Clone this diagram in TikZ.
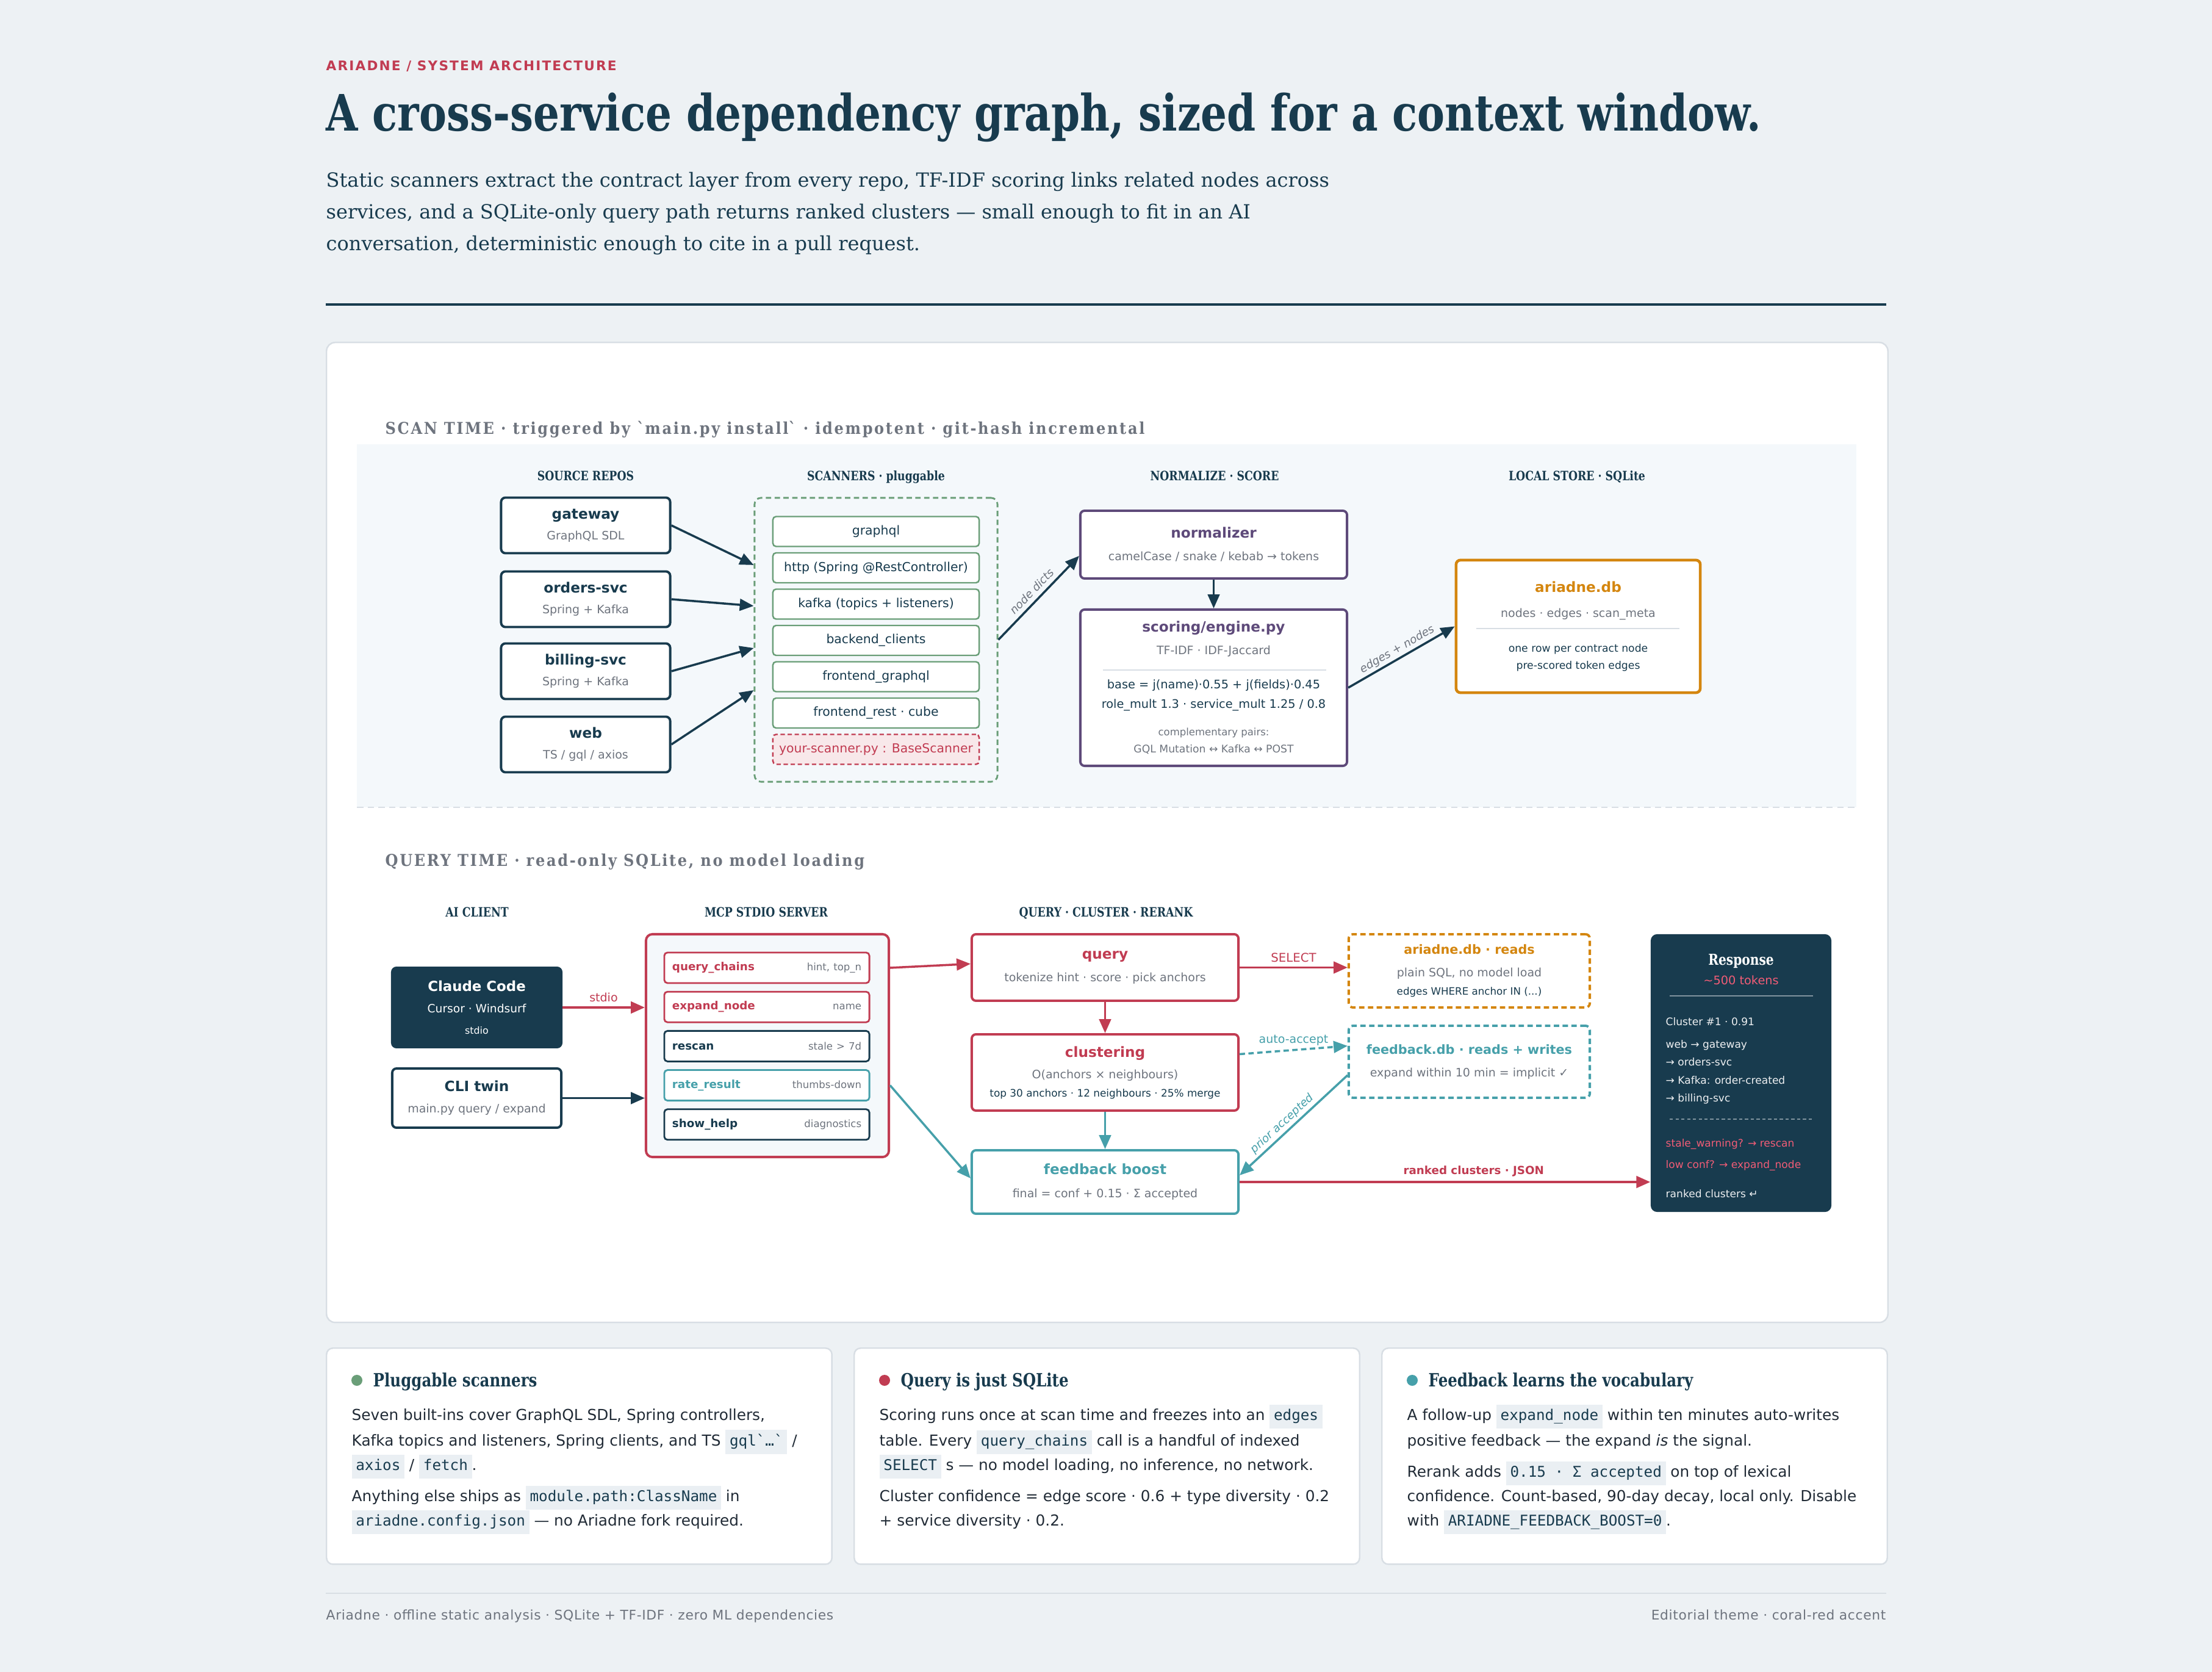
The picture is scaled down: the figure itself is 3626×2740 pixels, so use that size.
\documentclass[tikz,border=0pt]{standalone}
\usepackage{fontspec}
\usepackage{xcolor}
\usetikzlibrary{arrows.meta,positioning}
\setmainfont{DejaVu Sans}
\setmonofont{DejaVu Sans Mono}
\newfontfamily\serif{DejaVu Serif}
\newfontfamily\serifbf{DejaVu Serif}[FakeStretch=0.82]
\newfontfamily\serifsp{DejaVu Serif}[FakeStretch=0.9,LetterSpace=10]
\newfontfamily\eyebrow{DejaVu Sans}[LetterSpace=10]
\newfontfamily\footfont{DejaVu Sans}[LetterSpace=3]
\newfontfamily\sym{DejaVu Sans}

\definecolor{pagebg}{RGB}{237,241,244}
\definecolor{navy}{RGB}{24,59,78}
\definecolor{coral}{RGB}{193,60,82}
\definecolor{pink}{RGB}{240,92,118}
\definecolor{sgreen}{RGB}{106,158,120}
\definecolor{plum}{RGB}{94,74,122}
\definecolor{amber}{RGB}{212,134,15}
\definecolor{teal}{RGB}{70,160,170}
\definecolor{txtgray}{RGB}{110,116,126}
\definecolor{band}{RGB}{244,248,251}
\definecolor{rule}{RGB}{216,222,228}
\definecolor{codebg}{RGB}{234,239,243}
\definecolor{ink}{RGB}{33,43,54}

\newcommand\fsz[2]{\fontsize{#1}{#2}\selectfont}
\newcommand\subtxt{\fsz{5.4}{7}\color{txtgray}}
\newcommand\code[1]{{\setlength\fboxsep{1.9pt}\colorbox{codebg}{\ttfamily\fsz{6.9}{7}\color{navy}\strut#1}}}

\begin{document}
\begin{tikzpicture}[x=0.01cm,y=-0.01cm,
  >={Triangle[length=6.5pt,width=5.5pt]},
  every node/.style={inner sep=0pt, text=navy},
  wire/.style={line width=1pt, ->},
  box/.style={draw, fill=white, line width=1.1pt, rounded corners=2pt, align=center},
  repo/.style={box, draw=navy, minimum width=2.77cm, minimum height=0.91cm, font=\fsz{6.6}{9.7}},
  scn/.style={draw=sgreen, line width=0.7pt, fill=white, rounded corners=1.5pt,
    minimum width=3.38cm, minimum height=0.49cm, font=\fsz{5.8}{7}},
  tool/.style={fill=white, line width=0.8pt, rounded corners=1.5pt, minimum height=0.5cm,
    text width=3.1cm, inner xsep=0.13cm, align=left, font=\fsz{5.2}{6}},
  lbl/.style={font=\fsz{5.4}{6}, text=txtgray},
  hdr/.style={anchor=base west, font=\serifsp\bfseries\fsz{7.6}{9}, text=txtgray},
  colhdr/.style={anchor=base, font=\serifbf\bfseries\fsz{6}{7}},
  card/.style={fill=white, draw=rule, line width=0.7pt, rounded corners=3pt,
    minimum width=8.28cm, minimum height=3.54cm, anchor=north west},
  body/.style={anchor=base west, font=\fsz{7.05}{8}, text=ink},
  resptxt/.style={anchor=base west, font=\fsz{4.85}{6}, text=white!92!navy},
]
\fill[pagebg] (0,0) rectangle (3626,2740);
\useasboundingbox (0,0) rectangle (3626,2740);

% header
\node[anchor=base west, font=\eyebrow\bfseries\fsz{6.15}{7}, text=coral] (eyebrow) at (534,116) {ARIADNE / SYSTEM ARCHITECTURE};
\node[anchor=base west, font=\serifbf\bfseries\fsz{23.4}{26}] (title) at (534,215) {A cross-service dependency graph, sized for a context window.};
\foreach \txt/\y [count=\i] in {
  {Static scanners extract the contract layer from every repo, TF-IDF scoring links related nodes across}/307,
  {services, and a SQLite-only query path returns ranked clusters — small enough to fit in an AI}/359,
  {conversation, deterministic enough to cite in a pull request.}/411}
  \node[anchor=base west, font=\serif\fsz{9.1}{10}] (lede\i) at (534,\y) {\txt};
\draw[navy, line width=1.2pt] (534,499) -- (3092,499);

\node[fill=white, draw=rule, line width=0.7pt, rounded corners=4pt, anchor=north west,
  minimum width=25.58cm, minimum height=16.05cm] (panel) at (534,560) {};

% scan time
\node[hdr] (scanhdr) at (631,712) {SCAN TIME · triggered by \textasciigrave main.py install\textasciigrave\ · idempotent · git-hash incremental};
\fill[band] (585,728) rectangle (3043,1323);
\draw[rule, line width=0.8pt, dash pattern=on 3pt off 2pt] (585,1323) -- (3043,1323);

\node[colhdr] (h-src) at (960,788) {SOURCE REPOS};
\node[colhdr] (h-scn) at (1436,788) {SCANNERS · pluggable};
\node[colhdr] (h-norm) at (1991,788) {NORMALIZE · SCORE};
\node[colhdr] (h-store) at (2585,788) {LOCAL STORE · SQLite};

\node[repo] (gateway) at (960,861) {\textbf{gateway}\\{\subtxt GraphQL SDL}};
\node[repo] (orders) at (960,982) {\textbf{orders-svc}\\{\subtxt Spring + Kafka}};
\node[repo] (billing) at (960,1100) {\textbf{billing-svc}\\{\subtxt Spring + Kafka}};
\node[repo] (web) at (960,1220) {\textbf{web}\\{\subtxt TS / gql / axios}};

\node[draw=sgreen, line width=0.8pt, dash pattern=on 2.5pt off 1.6pt, rounded corners=3pt,
  minimum width=3.98cm, minimum height=4.65cm] (scanners) at (1436,1048.5) {};
\foreach \txt [count=\i from 0] in {graphql, http (Spring @RestController), kafka (topics + listeners),
  backend\_clients, frontend\_graphql, frontend\_rest · cube}
  \node[scn] (scn\i) at (1436,{871+59.5*\i}) {\txt};
\node[scn, draw=coral, dash pattern=on 2pt off 1.3pt, fill=coral!12, text=coral] (scn6) at (1436,1228) {your-scanner.py : BaseScanner};

\foreach \r/\dy in {gateway/12.25, orders/5.55, billing/-1.35, web/-8.25}
  \draw[wire, navy] (\r.east) -- ([yshift=\dy mm]scanners.west);

\node[box, draw=plum, minimum width=4.37cm, minimum height=1.11cm, font=\fsz{6.6}{10.5}] (normalizer) at (1989.5,892.5)
  {{\color{plum}\bfseries normalizer}\\{\subtxt camelCase / snake / kebab → tokens}};
\node[box, draw=plum, minimum width=4.37cm, minimum height=2.56cm, font=\fsz{6.6}{8}] (scoring) at (1989.5,1127)
  {{\color{plum}\bfseries scoring/engine.py}\\[2.5pt]{\subtxt TF-IDF · IDF-Jaccard}\\[8pt]
   {\fsz{5.5}{7}base = j(name)·0.55 + j(fields)·0.45}\\[1.1pt]
   {\fsz{5.5}{7}role\_mult 1.3 · service\_mult 1.25 / 0.8}\\[4.8pt]
   {\fsz{4.7}{6}\color{txtgray}complementary pairs:}\\
   {\fsz{4.9}{6}\color{txtgray}GQL Mutation ↔ Kafka ↔ POST}};
\draw[rule, line width=0.6pt] (1808,1098) -- (2174,1098);

\node[box, draw=amber, line width=1.3pt, minimum width=4cm, minimum height=2.17cm, font=\fsz{6.6}{8}] (db) at (2587,1026.5)
  {{\color{amber}\bfseries ariadne.db}\\[3.7pt]{\subtxt nodes · edges · scan\_meta}\\[8pt]
   {\fsz{4.9}{7}one row per contract node}\\{\fsz{4.9}{7}pre-scored token edges}};
\draw[rule, line width=0.6pt] (2420,1030) -- (2753,1030);

\draw[wire, navy] (scanners.east) -- node[lbl, sloped, above=2pt, font=\itshape\fsz{5.2}{6}] {node dicts} ([yshift=-1.85mm]normalizer.west);
\draw[wire, navy] (normalizer.south) -- (scoring.north);
\draw[wire, navy] (scoring.east) -- node[lbl, sloped, above=1pt, font=\itshape\fsz{5.2}{6}] {edges + nodes} (db.west);

% query time
\node[hdr] (queryhdr) at (631,1419) {QUERY TIME · read-only SQLite, no model loading};
\node[colhdr] (h-ai) at (782,1502) {AI CLIENT};
\node[colhdr] (h-mcp) at (1256,1502) {MCP STDIO SERVER};
\node[colhdr] (h-qcr) at (1813,1502) {QUERY · CLUSTER · RERANK};

\node[box, draw=navy, fill=navy, text=white, minimum width=2.77cm, minimum height=1.3cm, font=\fsz{6.5}{10}] (claude) at (781.5,1651)
  {\textbf{Claude Code}\\{\fsz{5.3}{7}Cursor · Windsurf}\\{\fsz{4.5}{6}stdio}};
\node[repo, minimum height=0.97cm, font=\fsz{6.6}{10}] (cli) at (781.5,1799.5) {\textbf{CLI twin}\\{\subtxt main.py query / expand}};

\node[draw=coral, fill=band, line width=1.1pt, rounded corners=3pt, minimum width=3.98cm, minimum height=3.65cm] (mcp) at (1258,1713.5) {};
\foreach \txt/\arg/\col [count=\i from 1] in {query\_chains/{hint, top\_n}/coral, expand\_node/name/coral,
  rescan/stale > 7d/navy, rate\_result/thumbs-down/teal, show\_help/diagnostics/navy}
  \node[tool, draw=\col, text=\col] (tool\i) at (1257,{1586+64.2*(\i-1)}) {\textbf{\txt}\hfill{\fsz{4.7}{6}\color{txtgray}\arg}};

\node[box, draw=coral, minimum width=4.37cm, minimum height=1.09cm, font=\fsz{6.6}{10.5}] (query) at (1811.5,1585.5)
  {{\color{coral}\bfseries query}\\{\subtxt tokenize hint · score · pick anchors}};
\node[box, draw=coral, minimum width=4.37cm, minimum height=1.25cm, font=\fsz{6.6}{8.5}] (clustering) at (1811.5,1757.5)
  {{\color{coral}\bfseries clustering}\\[1.5pt]{\subtxt O(anchors × neighbours)}\\{\fsz{4.8}{6}top 30 anchors · 12 neighbours · 25\% merge}};
\node[box, draw=teal, minimum width=4.37cm, minimum height=1.04cm, font=\fsz{6.6}{10.8}] (boost) at (1811.5,1937)
  {{\color{teal}\bfseries feedback boost}\\{\subtxt final = conf + 0.15 · Σ accepted}};

\node[box, draw=amber, dash pattern=on 2.5pt off 1.6pt, minimum width=3.95cm, minimum height=1.2cm, font=\fsz{5.9}{8.5}] (dbreads) at (2408.5,1591)
  {{\color{amber}\bfseries ariadne.db · reads}\\[2pt]{\subtxt plain SQL, no model load}\\{\fsz{4.75}{6}edges WHERE anchor IN (...)}};
\node[box, draw=teal, dash pattern=on 2.5pt off 1.6pt, minimum width=3.95cm, minimum height=1.18cm, font=\fsz{5.9}{10.5}] (fbdb) at (2408.5,1740)
  {{\color{teal}\bfseries feedback.db · reads + writes}\\{\subtxt expand within 10 min = implicit ✓}};

\node[fill=navy, rounded corners=3pt, minimum width=2.96cm, minimum height=4.55cm] (response) at (2854,1758.5) {};
\node[anchor=base, font=\serifbf\bfseries\fsz{7}{8}, text=white] (resp-title) at (2854,1581) {Response};
\node[anchor=base, font=\fsz{5.5}{7}, text=pink] (resp-tokens) at (2854,1613) {\textasciitilde 500 tokens};
\draw[white!45!navy, line width=0.6pt] (2737,1632) -- (2972,1632);
\foreach \txt/\y [count=\i] in {Cluster \#1 · 0.91/1680, web → gateway/1717, → orders-svc/1746,
  → Kafka: order-created/1776, → billing-svc/1805, ranked clusters ↵/1962}
  \node[resptxt] (resp-l\i) at (2730,\y) {\txt};
\draw[white!45!navy, line width=0.6pt, dash pattern=on 1.5pt off 1.2pt] (2737,1834) -- (2972,1834);
\node[resptxt, text=pink] (resp-hint1) at (2730,1879) {stale\_warning? → rescan};
\node[resptxt, text=pink] (resp-hint2) at (2730,1914) {low conf? → expand\_node};

\draw[wire, coral] (claude.east) -- node[lbl, above=2pt, text=coral] {stdio} (claude.east -| mcp.west);
\draw[wire, navy] (cli.east) -- (cli.east -| mcp.west);
\draw[wire, coral] (tool1 -| mcp.east) -- ([yshift=0.6mm]query.west);
\draw[wire, teal] (tool4 -| mcp.east) -- ([yshift=0.6mm]boost.west);
\draw[wire, coral] (query.south) -- (clustering.north);
\draw[wire, teal] (clustering.south) -- (boost.north);
\draw[wire, coral] (query.east) -- node[lbl, above=2pt, text=coral, font=\fsz{5.6}{6}] {SELECT} (query.east -| dbreads.west);
\draw[wire, teal, dash pattern=on 2.5pt off 1.6pt] ([yshift=3mm]clustering.east) -- node[lbl, above=1.5pt, text=teal] {auto-accept} ([yshift=2.6mm]fbdb.west);
\draw[wire, teal] ([yshift=-2.2mm]fbdb.west) -- node[lbl, sloped, above=1pt, pos=0.55, text=teal, font=\itshape\fsz{5.2}{6}] {prior accepted} ([yshift=1.1mm]boost.east);
\draw[wire, coral] (boost.east) -- node[lbl, above=2pt, pos=0.57, text=coral, font=\bfseries\fsz{5.2}{6}] {ranked clusters · JSON} (boost.east -| response.west);

% cards
\foreach \x/\nm/\col/\txt in {534/card1/sgreen/Pluggable scanners, 1399/card2/coral/Query is just SQLite,
  2264/card3/teal/Feedback learns the vocabulary} {
  \node[card] (\nm) at (\x,2208) {};
  \fill[\col] (\x+51,2262) circle (0.09cm);
  \node[anchor=base west, font=\serifbf\bfseries\fsz{8.5}{10}] (\nm-title) at (\x+77,2272) {\txt};
}
\foreach \txt/\dy [count=\i] in {
  {Seven built-ins cover GraphQL SDL, Spring controllers,}/119,
  {Kafka topics and listeners, Spring clients, and TS \code{gql\textasciigrave…\textasciigrave} /}/161,
  {\code{axios} / \code{fetch}.}/201,
  {Anything else ships as \code{module.path:ClassName} in}/252,
  {\code{ariadne.config.json} — no Ariadne fork required.}/292}
  \node[body] (card1-l\i) at (576,2208+\dy) {\txt};
\foreach \txt/\dy [count=\i] in {
  {Scoring runs once at scan time and freezes into an \code{edges}}/119,
  {table. Every \code{query\_chains} call is a handful of indexed}/161,
  {\code{SELECT} s — no model loading, no inference, no network.}/201,
  {Cluster confidence = edge score · 0.6 + type diversity · 0.2}/252,
  {+ service diversity · 0.2.}/292}
  \node[body] (card2-l\i) at (1441,2208+\dy) {\txt};
\foreach \txt/\dy [count=\i] in {
  {A follow-up \code{expand\_node} within ten minutes auto-writes}/119,
  {positive feedback — the expand \textit{is} the signal.}/161,
  {Rerank adds \code{0.15 · Σ accepted} on top of lexical}/212,
  {confidence. Count-based, 90-day decay, local only. Disable}/252,
  {with \code{ARIADNE\_FEEDBACK\_BOOST=0}.}/292}
  \node[body] (card3-l\i) at (2306,2208+\dy) {\txt};

% footer
\draw[rule, line width=0.7pt] (534,2611) -- (3092,2611);
\node[anchor=base west, font=\footfont\fsz{6.2}{7}, text=txtgray] (foot-l) at (534,2654) {Ariadne · offline static analysis · SQLite + TF-IDF · zero ML dependencies};
\node[anchor=base east, font=\footfont\fsz{6.2}{7}, text=txtgray] (foot-r) at (3092,2654) {Editorial theme · coral-red accent};
\end{tikzpicture}
\end{document}
